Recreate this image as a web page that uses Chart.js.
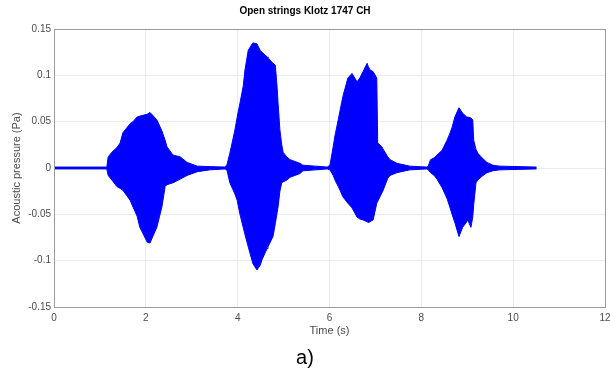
<!DOCTYPE html>
<html>
<head>
<meta charset="utf-8">
<script src="https://cdn.jsdelivr.net/npm/chart.js@4.4.1/dist/chart.umd.min.js"></script>
<style>
  html, body { margin: 0; padding: 0; background: #fff; }
  #wrap { width: 610px; height: 374px; }
</style>
</head>
<body>
<div id="wrap"><canvas id="wave-canvas" width="610" height="374"></canvas></div>
<script>
// envelope of the recording (time in s, pressure in Pa)
const times = [
  0, 1.15,
  1.18, 1.26, 1.37, 1.44, 1.50, 1.66, 1.72, 1.81, 1.87, 2.03, 2.09, 2.24, 2.35, 2.42, 2.46, 2.59, 2.75, 2.90, 3.12, 3.40, 3.73,
  3.77, 3.83, 3.94, 3.99, 4.05, 4.12, 4.16, 4.23, 4.33, 4.42, 4.49, 4.53, 4.64, 4.66, 4.75, 4.77, 4.82, 4.86, 4.88, 4.92, 4.96, 4.99, 5.07, 5.14, 5.36, 5.42, 5.70, 5.95,
  6.01, 6.08, 6.12, 6.19, 6.23, 6.29, 6.40, 6.49, 6.60, 6.66, 6.73, 6.82, 6.84, 6.88, 6.95, 7.03, 7.05, 7.14, 7.16, 7.27, 7.32, 7.47, 7.75, 8.12,
  8.15, 8.20, 8.28, 8.34, 8.45, 8.56, 8.62, 8.67, 8.73, 8.82, 8.90, 8.99, 9.01, 9.08, 9.12, 9.14, 9.19, 9.23, 9.32, 9.43, 9.56, 9.71, 10.51,
];
const upper = [
  0.001, 0.001,
  0.012, 0.017, 0.022, 0.027, 0.038, 0.048, 0.050, 0.055, 0.056, 0.058, 0.060, 0.052, 0.040, 0.030, 0.023, 0.014, 0.012, 0.006, 0.002, 0.0015, 0.001,
  0.004, 0.016, 0.041, 0.055, 0.070, 0.088, 0.106, 0.127, 0.135, 0.134, 0.127, 0.125, 0.120, 0.119, 0.114, 0.113, 0.111, 0.087, 0.070, 0.041, 0.025, 0.017, 0.012, 0.009, 0.005, 0.003, 0.002, 0.001,
  0.003, 0.023, 0.035, 0.052, 0.062, 0.077, 0.097, 0.102, 0.093, 0.097, 0.104, 0.113, 0.110, 0.106, 0.104, 0.097, 0.027, 0.023, 0.021, 0.012, 0.009, 0.005, 0.002, 0.001,
  0.002, 0.009, 0.011, 0.014, 0.019, 0.030, 0.037, 0.044, 0.055, 0.065, 0.059, 0.055, 0.055, 0.054, 0.052, 0.030, 0.020, 0.016, 0.011, 0.006, 0.003, 0.002, 0.001,
];
const lower = [
  -0.001, -0.001,
  -0.008, -0.013, -0.020, -0.022, -0.024, -0.035, -0.042, -0.052, -0.064, -0.080, -0.081, -0.064, -0.042, -0.020, -0.018, -0.016, -0.012, -0.008, -0.004, -0.002, -0.001,
  -0.003, -0.016, -0.028, -0.035, -0.050, -0.064, -0.072, -0.085, -0.103, -0.110, -0.105, -0.099, -0.087, -0.085, -0.076, -0.074, -0.060, -0.048, -0.042, -0.025, -0.016, -0.015, -0.013, -0.010, -0.006, -0.003, -0.002, -0.001,
  -0.002, -0.008, -0.013, -0.020, -0.024, -0.031, -0.038, -0.043, -0.053, -0.055, -0.056, -0.058, -0.059, -0.058, -0.056, -0.038, -0.036, -0.027, -0.025, -0.011, -0.008, -0.005, -0.002, -0.001,
  -0.002, -0.005, -0.008, -0.012, -0.021, -0.033, -0.042, -0.050, -0.059, -0.074, -0.064, -0.058, -0.056, -0.064, -0.053, -0.040, -0.016, -0.013, -0.009, -0.005, -0.003, -0.002, -0.001,
];

const xTicks = [0, 2, 4, 6, 8, 10, 12];
const yTicks = [-0.15, -0.1, -0.05, 0, 0.05, 0.1, 0.15];
const yTickLabels = ['-0.15', '-0.1', '-0.05', '0', '0.05', '0.1', '0.15'];

const FONT = '"Liberation Sans", Arial, Helvetica, sans-serif';
const BLUE = '#0000ff';

// box around the whole plot area, like the matlab axes
const frame = {
  id: 'frame',
  afterDraw(chart) {
    const { ctx, chartArea: a } = chart;
    ctx.save();
    ctx.strokeStyle = '#9a9a9a';
    ctx.lineWidth = 1;
    ctx.strokeRect(Math.round(a.left) + 0.5, Math.round(a.top) + 0.5,
      Math.round(a.right - a.left), Math.round(a.bottom - a.top));
    ctx.restore();
  },
};

const canvas = document.getElementById('wave-canvas');
const chart = new Chart(canvas, {
  type: 'line',
  data: {
    datasets: [{
      label: 'upper',
      data: times.map((t, i) => ({ x: t, y: upper[i] })),
      borderColor: BLUE,
      backgroundColor: BLUE,
      borderWidth: 1,
      pointRadius: 0,
      tension: 0,
      fill: '+1',
    }, {
      label: 'lower',
      data: times.map((t, i) => ({ x: t, y: lower[i] })),
      borderColor: BLUE,
      backgroundColor: BLUE,
      borderWidth: 1,
      pointRadius: 0,
      tension: 0,
      fill: false,
    }],
  },
  options: {
    responsive: false,
    animation: false,
    layout: { padding: { left: 0, right: 0, top: 0, bottom: 0 } },
    plugins: {
      legend: { display: false },
      tooltip: { enabled: false },
      title: {
        display: true,
        text: 'Open strings Klotz 1747 CH',
        color: '#000',
        font: { family: FONT, size: 10, weight: 'bold' },
        padding: { top: 5, bottom: 12 },
      },
      subtitle: {
        display: true,
        position: 'bottom',
        text: 'a)',
        color: '#000',
        font: { family: FONT, size: 20, weight: 'normal' },
        padding: { top: 0, bottom: 4 },
      },
    },
    scales: {
      x: {
        type: 'linear',
        min: 0,
        max: 12,
        afterBuildTicks: (scale) => { scale.ticks = xTicks.map((v) => ({ value: v })); },
        afterFit: (scale) => {
          scale.height = 39;
          scale.paddingLeft = 0;
          scale.paddingRight = 5;
        },
        grid: { color: '#ebebeb', drawTicks: false },
        border: { display: false },
        ticks: {
          color: '#4a4a4a',
          font: { family: FONT, size: 10 },
          padding: 5,
          maxRotation: 0,
        },
        title: {
          display: true,
          text: 'Time (s)',
          color: '#4a4a4a',
          font: { family: FONT, size: 11 },
          padding: { top: 0, bottom: 8.4 },
        },
      },
      y: {
        min: -0.15,
        max: 0.15,
        afterBuildTicks: (scale) => { scale.ticks = yTicks.map((v) => ({ value: v })); },
        afterFit: (scale) => { scale.width = 54; },
        grid: { color: '#ebebeb', drawTicks: false },
        border: { display: false },
        ticks: {
          color: '#4a4a4a',
          font: { family: FONT, size: 10 },
          padding: 3,
          callback: (value) => yTickLabels[yTicks.findIndex((v) => Math.abs(v - value) < 1e-9)],
        },
        title: {
          display: true,
          text: 'Acoustic pressure (Pa)',
          color: '#4a4a4a',
          font: { family: FONT, size: 11 },
          padding: { top: 10.4, bottom: 0 },
        },
      },
    },
  },
  plugins: [frame],
});
</script>
</body>
</html>
